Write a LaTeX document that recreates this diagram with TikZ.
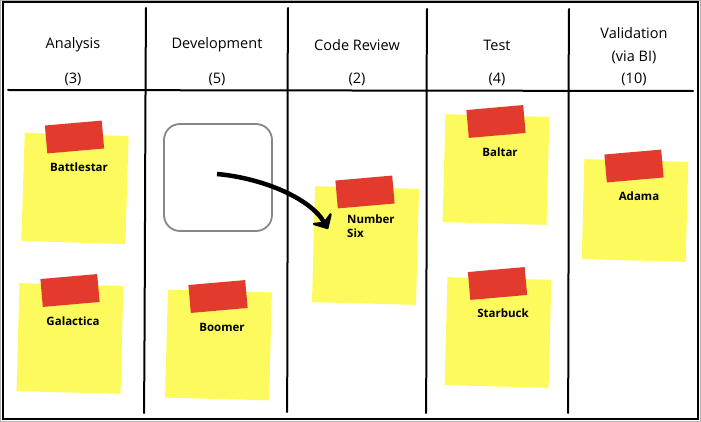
\documentclass[tikz,border=0pt]{standalone}
\usepackage{fontspec}
\setmainfont{Open Sans}
\usetikzlibrary{arrows.meta}
\definecolor{noteyellow}{RGB}{252,250,92}
\definecolor{tapered}{RGB}{226,59,45}
\definecolor{boxgray}{RGB}{135,135,135}
\tikzset{
  head/.style={font=\fontsize{14.5}{16}\selectfont, inner sep=0pt},
  notebody/.style={fill=noteyellow, draw=none, minimum width=104pt, minimum height=108pt, inner sep=0pt},
  tape/.style={fill=tapered, draw=none, minimum width=57pt, minimum height=28pt, inner sep=0pt},
  label/.style={font=\bfseries\fontsize{11.5}{14}\selectfont, inner sep=0pt},
  divider/.style={line width=2pt, line cap=round},
}
\begin{document}
\begin{tikzpicture}[x=1pt,y=-1pt]
\useasboundingbox (0,0) rectangle (701,422);
% frame
\draw[gray!60, line width=1pt] (0.8,0.8) rectangle (700.2,421.2);
\draw[line width=2pt] (2.5,2.5) rectangle (697.5,418.5);
% header line and dividers
\coordinate (hl) at (8,90);
\coordinate (hr) at (693,91);
\draw[divider] (hl) -- (hr);
\coordinate (d1t) at (146,8); \coordinate (d1b) at (144,413);
\coordinate (d2t) at (288,8); \coordinate (d2b) at (287,412);
\coordinate (d3t) at (427,9); \coordinate (d3b) at (426,413);
\coordinate (d4t) at (569,9); \coordinate (d4b) at (568,413);
\draw[divider] (d1t) .. controls (145,150) and (145,300) .. (d1b);
\draw[divider] (d2t) .. controls (287,150) and (288,300) .. (d2b);
\draw[divider] (d3t) .. controls (426,150) and (427,300) .. (d3b);
\draw[divider] (d4t) .. controls (568,150) and (569,300) .. (d4b);
% headers
\node[head] (h1) at (73,45) {Analysis};
\node[head] (h1n) at (73,79) {(3)};
\node[head] (h2) at (217,45) {Development};
\node[head] (h2n) at (217,79) {(5)};
\node[head] (h3) at (357,45) {Code Review};
\node[head] (h3n) at (357,79) {(2)};
\node[head] (h4) at (497,45) {Test};
\node[head] (h4n) at (497,79) {(4)};
\node[head] (h5) at (634,33) {Validation};
\node[head] (h5b) at (634,57) {(via BI)};
\node[head] (h5n) at (634,79) {(10)};
% notes
\node[notebody, rotate=-1.8] (battlestar) at (75,188.5) {};
\node[tape, rotate=5] (battlestarTape) at (74.5,137) {};
\node[label] (battlestarLabel) at (79,167) {Battlestar};

\node[notebody, rotate=-1.5] (galactica) at (70,338.5) {};
\node[tape, rotate=5] (galacticaTape) at (70,290.5) {};
\node[label] (galacticaLabel) at (73,321) {Galactica};

\node[notebody, rotate=-1.5] (boomer) at (218.5,345) {};
\node[tape, rotate=5] (boomerTape) at (218,296.5) {};
\node[label] (boomerLabel) at (222,327) {Boomer};

\node[notebody, minimum height=116pt, rotate=-1.5] (six) at (365.5,245.5) {};
\node[tape, rotate=5] (sixTape) at (365,192) {};
\node[label, align=left, anchor=north west] (sixLabel) at (347,215) {Number\\Six};

\node[notebody, rotate=-1.5] (baltar) at (496,169.5) {};
\node[tape, rotate=5] (baltarTape) at (496,121.5) {};
\node[label] (baltarLabel) at (500,152) {Baltar};

\node[notebody, minimum height=100pt, rotate=-1.5] (adama) at (635,210.5) {};
\node[tape, rotate=5] (adamaTape) at (634,166) {};
\node[label] (adamaLabel) at (639,196) {Adama};

\node[notebody, rotate=-1.5] (starbuck) at (498,332.5) {};
\node[tape, rotate=5] (starbuckTape) at (497.5,283.5) {};
\node[label] (starbuckLabel) at (503,313) {Starbuck};

% empty slot
\node[draw=boxgray, line width=1.8pt, rounded corners=16pt, minimum width=108pt, minimum height=107pt, inner sep=0pt] (slot) at (218,177.5) {};
% arrow
\coordinate (arrowstart) at (217,174);
\coordinate (arrowend) at (328,229);
\draw[line width=4.5pt, -{Stealth[length=15pt,width=28pt,inset=6pt,round]}]
  (arrowstart) .. controls (262,178) and (310,198) .. (arrowend);
\end{tikzpicture}
\end{document}
